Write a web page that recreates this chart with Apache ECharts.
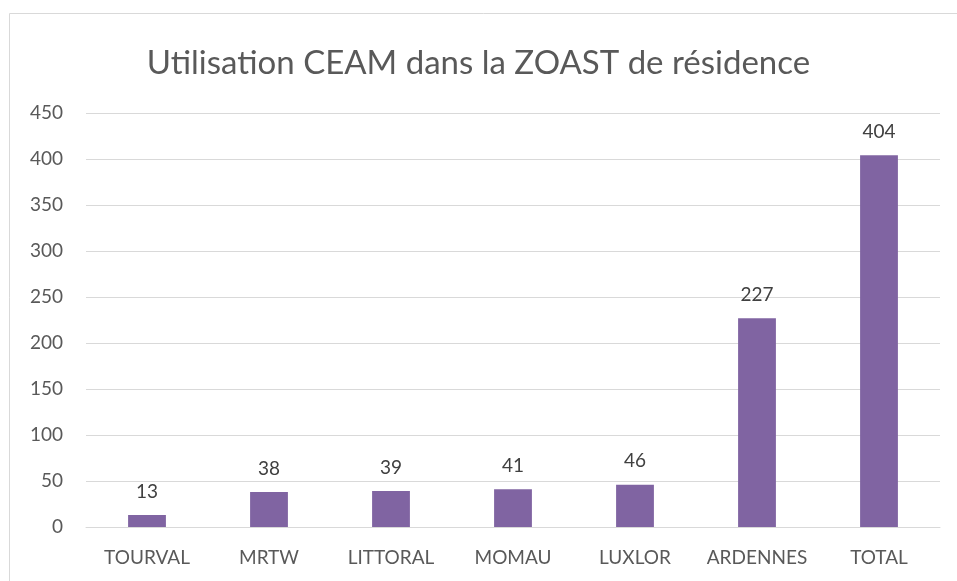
<!DOCTYPE html>
<html><head><meta charset="utf-8">
<script src="https://cdn.jsdelivr.net/npm/echarts@6/dist/echarts.min.js"></script>
<style>html,body{margin:0;padding:0;background:#fff;}#c{width:957px;height:581px;}</style>
</head><body><div id="c"></div>
<script>
const titleText = "Utilisation CEAM dans la ZOAST de résidence";
const categories = ["TOURVAL","MRTW","LITTORAL","MOMAU","LUXLOR","ARDENNES","TOTAL"];
const values = [13,38,39,41,46,227,404];
const yMin = 0, yMax = 450, yStep = 50;

const chart = echarts.init(document.getElementById('c'), null, {renderer:'canvas'});
const font = 'Lato, "Open Sans", sans-serif';
chart.setOption({
  animation:false,
  graphic:[{type:'rect', shape:{x:9.5,y:13.5,width:1000,height:1000}, style:{fill:'none', stroke:'#d9d9d9', lineWidth:1}, silent:true}],
  title:{text:titleText, left:'center', top:42, textStyle:{fontFamily:font, fontSize:33, fontWeight:'normal', color:'#595959'}},
  grid:{left:86, right:17, top:113, bottom:54},
  xAxis:{type:'category', data:categories, axisTick:{show:false},
    axisLine:{lineStyle:{color:'#d9d9d9'}},
    axisLabel:{interval:0, fontFamily:font, fontSize:19, color:'#595959', margin:21}},
  yAxis:{type:'value', min:yMin, max:yMax, interval:yStep,
    axisLine:{show:false}, axisTick:{show:false},
    splitLine:{lineStyle:{color:'#d9d9d9'}},
    axisLabel:{fontFamily:font, fontSize:19, color:'#595959', margin:23}},
  series:[{type:'bar', data:values, barCategoryGap:'69%', itemStyle:{color:'#8064a2'},
    label:{show:true, position:'top', distance:14, fontFamily:font, fontSize:19, color:'#404040'}}]
});
</script></body></html>
